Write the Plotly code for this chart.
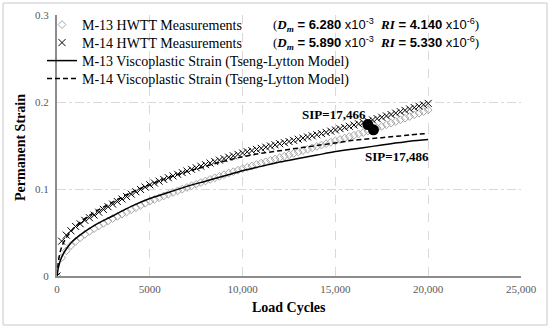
import plotly.graph_objects as go

# ---------------- data ----------------
cycles_meas = list(range(0, 20001, 250))

m13_meas = [0.0000, 0.0210, 0.0290, 0.0350, 0.0398, 0.0440, 0.0478, 0.0513, 0.0545,
            0.0575, 0.0605, 0.0633, 0.0660, 0.0686, 0.0711, 0.0736, 0.0761, 0.0786,
            0.0811, 0.0836, 0.0860, 0.0880, 0.0900, 0.0920, 0.0940, 0.0960, 0.0979,
            0.0998, 0.1017, 0.1036, 0.1055, 0.1074, 0.1092, 0.1110, 0.1128, 0.1146,
            0.1164, 0.1182, 0.1199, 0.1216, 0.1233, 0.1249, 0.1265, 0.1281, 0.1297,
            0.1313, 0.1329, 0.1345, 0.1361, 0.1377, 0.1393, 0.1409, 0.1425, 0.1441,
            0.1457, 0.1473, 0.1489, 0.1505, 0.1521, 0.1537, 0.1553, 0.1569, 0.1585,
            0.1601, 0.1617, 0.1633, 0.1649, 0.1665, 0.1681, 0.1700, 0.1719, 0.1738,
            0.1757, 0.1776, 0.1795, 0.1814, 0.1833, 0.1852, 0.1871, 0.1890, 0.1909]

m14_meas = [0.0000, 0.0400, 0.0470, 0.0520, 0.0570, 0.0600, 0.0640, 0.0670, 0.0700,
            0.0733, 0.0765, 0.0796, 0.0826, 0.0856, 0.0885, 0.0913, 0.0941, 0.0968,
            0.0995, 0.1022, 0.1048, 0.1069, 0.1090, 0.1110, 0.1130, 0.1150, 0.1169,
            0.1188, 0.1207, 0.1226, 0.1244, 0.1262, 0.1280, 0.1298, 0.1315, 0.1332,
            0.1349, 0.1366, 0.1382, 0.1398, 0.1414, 0.1428, 0.1441, 0.1455, 0.1468,
            0.1481, 0.1494, 0.1507, 0.1520, 0.1533, 0.1546, 0.1559, 0.1572, 0.1585,
            0.1598, 0.1611, 0.1624, 0.1637, 0.1651, 0.1665, 0.1679, 0.1693, 0.1707,
            0.1721, 0.1735, 0.1749, 0.1764, 0.1779, 0.1794, 0.1809, 0.1824, 0.1840,
            0.1856, 0.1872, 0.1888, 0.1904, 0.1920, 0.1936, 0.1952, 0.1968, 0.1984]

cycles_model = [0, 50, 100, 200, 300, 500, 750, 1000, 1500, 2000, 3000, 4000, 5000,
                6000, 7000, 8000, 9000, 10000, 11000, 12000, 13000, 14000, 15000,
                16000, 17000, 18000, 19000, 20000]
m13_model = [0, 0.007, 0.012, 0.019, 0.024, 0.031, 0.038, 0.043, 0.051, 0.058, 0.069,
             0.080, 0.089, 0.096, 0.103, 0.109, 0.115, 0.121, 0.126, 0.131, 0.135,
             0.139, 0.143, 0.146, 0.149, 0.152, 0.155, 0.157]
m14_model = [0, 0.012, 0.020, 0.030, 0.036, 0.044, 0.051, 0.057, 0.066, 0.073, 0.085,
             0.096, 0.105, 0.113, 0.120, 0.126, 0.132, 0.137, 0.141, 0.144, 0.147,
             0.150, 0.153, 0.156, 0.158, 0.160, 0.162, 0.164]

sip_cycles = [16750, 17050]
sip_strain = [0.174, 0.168]
sip_labels = ["SIP=17,466", "SIP=17,486"]
sip_label_pos = [(14925, 0.186), (18320, 0.137)]

x_ticks = [0, 5000, 10000, 15000, 20000, 25000]
x_ticktext = ["0", "5000", "10,000", "15,000", "20,000", "25,000"]
y_ticks = [0, 0.1, 0.2, 0.3]
y_ticktext = ["0", "0.1", "0.2", "0.3"]

SERIF = "Liberation Serif"
SANS = "Liberation Sans"

# plot-area geometry (pixels) used for paper-coordinate decorations
L, R, T, B = 57, 521, 15, 276
W, H = R - L, B - T


def px(xp):
    return (xp - L) / W


def py(yp):
    return (B - yp) / H


fig = go.Figure()

fig.add_trace(go.Scatter(
    x=cycles_meas, y=m13_meas, mode="markers", name="M-13 HWTT Measurements", legend="legend",
    marker=dict(symbol="diamond-open", size=6, color="#a6a6a6", line=dict(width=1, color="#a6a6a6")),
))
fig.add_trace(go.Scatter(
    x=cycles_meas, y=m14_meas, mode="markers", name="M-14 HWTT Measurements", legend="legend2",
    marker=dict(symbol="x-thin-open", size=7, color="black", line=dict(width=1, color="black")),
))
fig.add_trace(go.Scatter(
    x=cycles_model, y=m13_model, mode="lines", name="M-13 Viscoplastic Strain (Tseng-Lytton Model)",
    legend="legend3", line=dict(color="black", width=1.5, shape="spline"),
))
fig.add_trace(go.Scatter(
    x=cycles_model, y=m14_model, mode="lines", name="M-14 Viscoplastic Strain (Tseng-Lytton Model)",
    legend="legend4", line=dict(color="black", width=1.5, dash="5px,3px", shape="spline"),
))
fig.add_trace(go.Scatter(
    x=sip_cycles, y=sip_strain, mode="markers", showlegend=False,
    marker=dict(symbol="circle", size=11, color="black"),
))

for (lx, ly), txt in zip(sip_label_pos, sip_labels):
    fig.add_annotation(x=lx, y=ly, text="<b>" + txt + "</b>", showarrow=False,
                       font=dict(family=SERIF, size=13, color="black"))

eq_params = [("6.280", "-3", "4.140", "-6"), ("5.890", "-3", "5.330", "-6")]
for i, (d, de, r, re) in enumerate(eq_params):
    t = ("(<b><i>D<sub>m</sub></i></b>"
         "<span style='font-family:Liberation Sans'><b> = " + d + " </b>x10<sup>" + de + "</sup>  </span>"
         "<b><i>RI</i></b>"
         "<span style='font-family:Liberation Sans'><b> = " + r + " </b>x10<sup>" + re + "</sup></span>)")
    fig.add_annotation(xref="paper", yref="paper", x=px(271), y=py(25 + 18 * i),
                       xanchor="left", yanchor="middle", text=t, showarrow=False,
                       font=dict(family=SERIF, size=13, color="black"))

# axis titles
fig.add_annotation(xref="paper", yref="paper", x=0.5, y=py(307), text="<b>Load Cycles</b>",
                   showarrow=False, xanchor="center", yanchor="middle",
                   font=dict(family=SERIF, size=14, color="black"))
fig.add_annotation(xref="paper", yref="paper", x=px(20), y=py(148),
                   text="<b>Permanent Strain</b>", textangle=-90, showarrow=False,
                   xanchor="center", yanchor="middle",
                   font=dict(family=SERIF, size=14, color="black"))

# outer frame
fig.add_shape(type="rect", xref="paper", yref="paper",
              x0=px(3), x1=px(547), y0=py(325), y1=py(3),
              line=dict(color="#c8c8c8", width=1), layer="below")

leg_common = dict(xanchor="left", yanchor="middle", bgcolor="rgba(0,0,0,0)",
                  font=dict(family=SERIF, size=14, color="black"), itemwidth=30,
                  borderwidth=0)
fig.update_layout(
    width=550, height=329,
    margin=dict(l=L, r=550 - R, t=T, b=329 - B, autoexpand=False),
    paper_bgcolor="white", plot_bgcolor="white",
    font=dict(family=SERIF, size=11, color="#595959"),
    showlegend=True,
    legend=dict(x=px(42), y=py(25), **leg_common),
    legend2=dict(x=px(42), y=py(43), **leg_common),
    legend3=dict(x=px(42), y=py(61), **leg_common),
    legend4=dict(x=px(42), y=py(79), **leg_common),
)
fig.update_xaxes(range=[0, 25000], tickvals=x_ticks, ticktext=x_ticktext,
                 showgrid=True, gridcolor="#d9d9d9", griddash="dash", gridwidth=1,
                 showline=True, linecolor="#8c8c8c", linewidth=2, zeroline=False,
                 ticks="", ticklabelstandoff=2, automargin=False,
                 tickfont=dict(family=SERIF, size=11, color="#595959"))
fig.update_yaxes(range=[0, 0.3], tickvals=y_ticks, ticktext=y_ticktext,
                 showgrid=True, gridcolor="#d9d9d9", griddash="dashdot", gridwidth=1,
                 showline=True, linecolor="#8c8c8c", linewidth=2, zeroline=False,
                 ticks="", ticklabelstandoff=4, automargin=False,
                 tickfont=dict(family=SERIF, size=11, color="#595959"))

fig.write_html("out.html", config={"displayModeBar": False},
               post_script="document.body.style.margin='0';")
